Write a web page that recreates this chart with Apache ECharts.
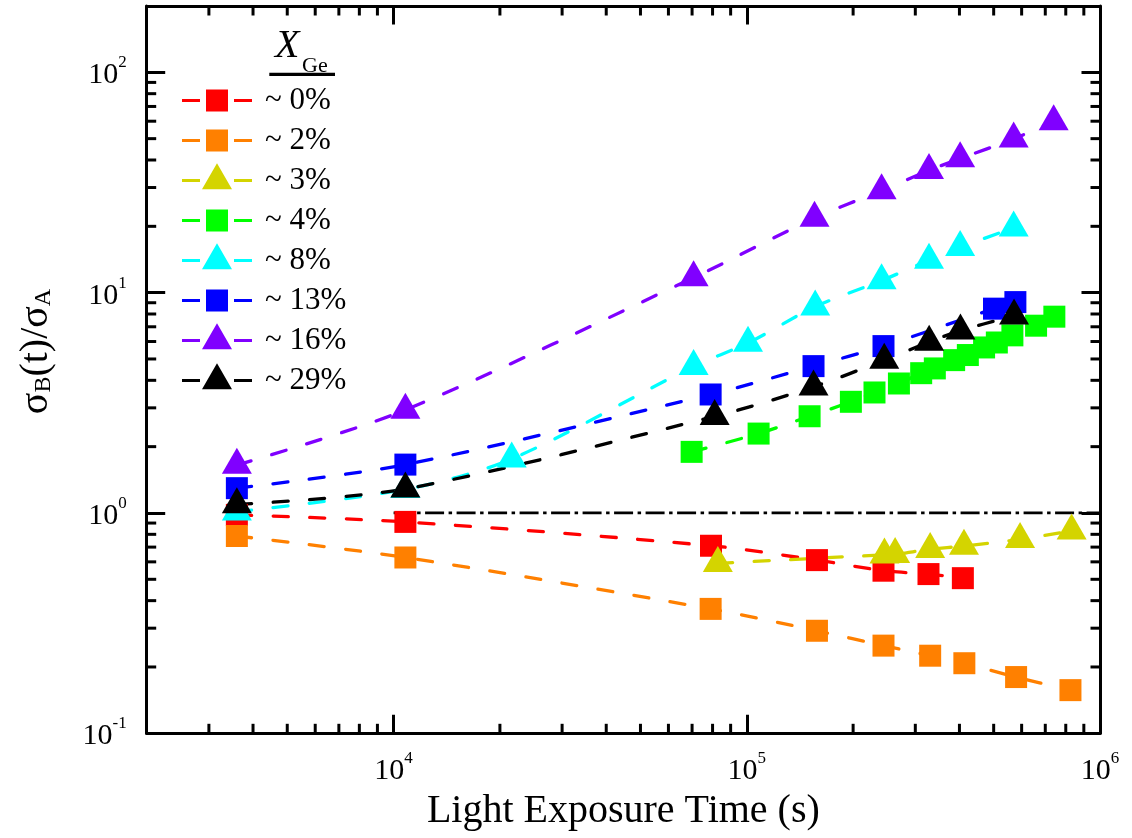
<!DOCTYPE html>
<html>
<head>
<meta charset="utf-8">
<title>Conductivity ratio vs. light exposure time</title>
<script src="https://cdn.jsdelivr.net/npm/echarts@6/dist/echarts.min.js"></script>
<style>
  html, body { margin: 0; padding: 0; background: #ffffff; }
  #chart { width: 1132px; height: 838px; }
</style>
</head>
<body>
<div id="chart"></div>
<script>
// Ge fraction of each sample (legend labels)
const seriesNames = ['~ 0%', '~ 2%', '~ 3%', '~ 4%', '~ 8%', '~ 13%', '~ 16%', '~ 29%'];

// Light exposure time (s) and conductivity ratio sigma_B(t)/sigma_A for each sample
const timeGe0  = [3600, 10800, 79200, 158000, 243800, 326900, 409000];
const ratioGe0 = [0.98, 0.911, 0.710, 0.611, 0.547, 0.528, 0.506];

const timeGe2  = [3600, 10800, 79000, 158000, 243800, 330500, 413000, 578700, 824800];
const ratioGe2 = [0.786, 0.628, 0.367, 0.292, 0.250, 0.225, 0.208, 0.180, 0.157];

const timeGe3  = [82800, 245300, 263000, 330500, 412000, 593800, 831000];
const ratioGe3 = [0.591, 0.646, 0.649, 0.684, 0.708, 0.759, 0.831];

const timeGe4  = [69800, 108000, 150600, 197100, 229900, 269600, 311700, 340700,
                  386400, 422500, 469700, 510400, 564900, 659200, 742600];
const ratioGe4 = [1.894, 2.293, 2.748, 3.196, 3.523, 3.87, 4.31, 4.53,
                  4.94, 5.21, 5.64, 5.94, 6.40, 7.08, 7.78];

const timeGe8  = [3600, 10800, 21600, 70700, 100800, 156200, 240800, 328000, 401800, 569600];
const ratioGe8 = [1.013, 1.28, 1.76, 4.63, 5.91, 8.63, 11.34, 14.05, 16.06, 19.7];

const timeGe13  = [3600, 10800, 79000, 154500, 243800, 501000, 576000];
const ratioGe13 = [1.296, 1.658, 3.45, 4.64, 5.72, 8.46, 9.06];

const timeGe16  = [3600, 10800, 70700, 155500, 240800, 328000, 401800, 569600, 739300];
const ratioGe16 = [1.649, 2.935, 11.70, 21.8, 29.06, 35.9, 40.6, 49.9, 59.8];

const timeGe29  = [3600, 10800, 81100, 154500, 245000, 328300, 402600, 571000];
const ratioGe29 = [1.093, 1.286, 2.744, 3.738, 4.94, 5.975, 6.72, 7.86];

// Unity reference line (no change in conductivity)
const unityTime  = [1e4, 1e6];
const unityRatio = [1, 1];

// Axis ranges and minor tick positions
const xRange = [2000, 1e6];
const yRange = [0.1, 200];
const xMinorTicks = [3000, 4000, 5000, 6000, 7000, 8000, 9000,
                     20000, 30000, 40000, 50000, 60000, 70000, 80000, 90000,
                     200000, 300000, 400000, 500000, 600000, 700000, 800000, 900000];
const yMinorTicks = [0.2, 0.3, 0.4, 0.5, 0.6, 0.7, 0.8, 0.9,
                     2, 3, 4, 5, 6, 7, 8, 9,
                     20, 30, 40, 50, 60, 70, 80, 90];

const colors = ['#ff0000', '#ff8000', '#d4d400', '#00ff00', '#00ffff', '#0000ff', '#8000ff', '#000000'];
const shapes = ['rect', 'rect', 'triangle', 'rect', 'triangle', 'rect', 'triangle', 'triangle'];
const times  = [timeGe0, timeGe2, timeGe3, timeGe4, timeGe8, timeGe13, timeGe16, timeGe29];
const ratios = [ratioGe0, ratioGe2, ratioGe3, ratioGe4, ratioGe8, ratioGe13, ratioGe16, ratioGe29];

const FONT = '"Liberation Serif", "Times New Roman", serif';
const MAJOR_LEN = 18.5;
const MINOR_LEN = 9.5;

// Legend icons: dashed line segments with the marker in the middle (70 x 36 box)
const iconFrame = 'M0,0h0.01v0.01h-0.01zM69.99,35.99h0.01v0.01h-0.01z';
const iconDashes = 'M0,16.5H18V19.5H0zM52,16.5H70V19.5H52z';
const legendIcons = {
  rect: 'path://' + iconFrame + iconDashes + 'M24,7H46V29H24z',
  triangle: 'path://' + iconFrame + iconDashes + 'M35,0.67L50,26.67L20,26.67z'
};

function isDecade(v) {
  const e = Math.log10(v);
  return Math.abs(e - Math.round(e)) < 1e-6;
}
function powerLabel(v) {
  return isDecade(v) ? '{b|10}{sup|' + Math.round(Math.log10(v)) + '}' : '';
}
const labelRich = {
  b: { fontFamily: FONT, fontSize: 30, color: '#000', verticalAlign: 'bottom', padding: [6, 0, 0, 0] },
  sup: { fontFamily: FONT, fontSize: 17, color: '#000', verticalAlign: 'top' }
};

function frameAxis(extra) {
  return Object.assign({
    type: 'log',
    logBase: 10,
    axisLine: { show: true, onZero: false, lineStyle: { color: '#000', width: 3 } },
    axisTick: { show: true, inside: true, length: MAJOR_LEN, lineStyle: { color: '#000', width: 3 } },
    splitLine: { show: false },
    minorTick: { show: false },
    axisPointer: { show: false }
  }, extra);
}

const dataSeries = seriesNames.map((name, i) => {
  const tri = shapes[i] === 'triangle';
  return {
    name: name,
    type: 'line',
    data: times[i].map((t, k) => [t, ratios[i][k]]),
    symbol: tri ? 'triangle' : 'rect',
    symbolSize: tri ? [30, 26] : [22, 22],
    symbolOffset: tri ? [0, -4.3] : [0, 0],
    showAllSymbol: true,
    smooth: 0.3,
    lineStyle: { color: colors[i], width: 3.3, type: [15, 21.5], cap: 'round' },
    itemStyle: { color: colors[i], opacity: 1 },
    emphasis: { disabled: true },
    silent: true,
    animation: false
  };
});

const unitySeries = {
  name: 'unity',
  type: 'line',
  data: unityTime.map((t, k) => [t, unityRatio[k]]),
  symbol: 'none',
  lineStyle: { color: '#000', width: 2.8, type: [19, 4.5, 3.5, 4.5] },
  silent: true,
  animation: false
};

// Minor ticks drawn on the bottom/top and left/right frame edges
const xMinorSeries = {
  type: 'custom',
  silent: true,
  clip: false,
  animation: false,
  data: xMinorTicks.map(v => [v, 1]),
  renderItem: function (params, api) {
    const x = api.coord([api.value(0), 1])[0];
    const cs = params.coordSys;
    const st = { stroke: '#000', lineWidth: 3 };
    return {
      type: 'group',
      children: [
        { type: 'line', shape: { x1: x, y1: cs.y + cs.height, x2: x, y2: cs.y + cs.height - MINOR_LEN }, style: st },
        { type: 'line', shape: { x1: x, y1: cs.y, x2: x, y2: cs.y + MINOR_LEN }, style: st }
      ]
    };
  }
};
const yMinorSeries = {
  type: 'custom',
  silent: true,
  clip: false,
  animation: false,
  data: yMinorTicks.map(v => [1e4, v]),
  renderItem: function (params, api) {
    const y = api.coord([1e4, api.value(1)])[1];
    const cs = params.coordSys;
    const st = { stroke: '#000', lineWidth: 3 };
    return {
      type: 'group',
      children: [
        { type: 'line', shape: { x1: cs.x, y1: y, x2: cs.x + MINOR_LEN, y2: y }, style: st },
        { type: 'line', shape: { x1: cs.x + cs.width, y1: y, x2: cs.x + cs.width - MINOR_LEN, y2: y }, style: st }
      ]
    };
  }
};

const chart = echarts.init(document.getElementById('chart'), null, { renderer: 'canvas' });

chart.setOption({
  backgroundColor: '#ffffff',
  animation: false,
  grid: {
    left: 146.7, right: 32, top: 6, bottom: 104.7,
    containLabel: false,
    outerBoundsMode: 'none'
  },
  xAxis: [
    frameAxis({
      position: 'bottom',
      min: xRange[0], max: xRange[1],
      name: 'Light Exposure Time (s)',
      nameLocation: 'middle',
      nameGap: 56,
      nameTextStyle: { fontFamily: FONT, fontSize: 40, color: '#000' },
      axisLabel: { show: true, margin: 17, fontFamily: FONT, fontSize: 30, color: '#000',
                   formatter: powerLabel, rich: labelRich,
                   showMinLabel: true, showMaxLabel: true, hideOverlap: false }
    }),
    frameAxis({
      position: 'top',
      min: xRange[0], max: xRange[1],
      axisLabel: { show: false }
    })
  ],
  yAxis: [
    frameAxis({
      position: 'left',
      min: yRange[0], max: yRange[1],
      axisLabel: { show: true, margin: 20, fontFamily: FONT, fontSize: 30, color: '#000',
                   formatter: powerLabel, rich: labelRich,
                   showMinLabel: true, showMaxLabel: true, hideOverlap: false }
    }),
    frameAxis({
      position: 'right',
      min: yRange[0], max: yRange[1],
      axisLabel: { show: false }
    })
  ],
  legend: {
    orient: 'vertical',
    left: 182,
    top: 82.5,
    padding: 0,
    itemWidth: 70,
    itemHeight: 36,
    itemGap: 4,
    selectedMode: false,
    textStyle: { fontFamily: FONT, fontSize: 31, color: '#000', padding: [0, 0, 0, 8] },
    data: seriesNames.map((n, i) => ({ name: n, icon: legendIcons[shapes[i]] }))
  },
  graphic: [
    {
      type: 'text', x: 275, y: 66, silent: true,
      style: { text: 'X', font: 'italic 40px ' + FONT, fill: '#000',
               align: 'left', verticalAlign: 'bottom', textAlign: 'left', textVerticalAlign: 'bottom' }
    },
    {
      type: 'text', x: 302, y: 77, silent: true,
      style: { text: 'Ge', font: '22px ' + FONT, fill: '#000',
               align: 'left', verticalAlign: 'bottom', textAlign: 'left', textVerticalAlign: 'bottom' }
    },
    {
      type: 'rect', silent: true,
      shape: { x: 269.3, y: 72.7, width: 65.7, height: 3.3 },
      style: { fill: '#000' }
    },
    {
      type: 'text', x: 36, y: 351.5, rotation: Math.PI / 2, silent: true,
      style: {
        text: 'σ{s|B}(t)/σ{s|A}',
        font: '40px ' + FONT,
        fill: '#000',
        align: 'center', verticalAlign: 'middle',
        textAlign: 'center', textVerticalAlign: 'middle',
        rich: {
          s: { fontFamily: FONT, fontSize: 24, fill: '#000', color: '#000',
               lineHeight: 24, verticalAlign: 'bottom', padding: [30, 0, 0, 0] }
        }
      }
    }
  ],
  series: [xMinorSeries, yMinorSeries].concat(dataSeries, [unitySeries])
});
</script>
</body>
</html>
